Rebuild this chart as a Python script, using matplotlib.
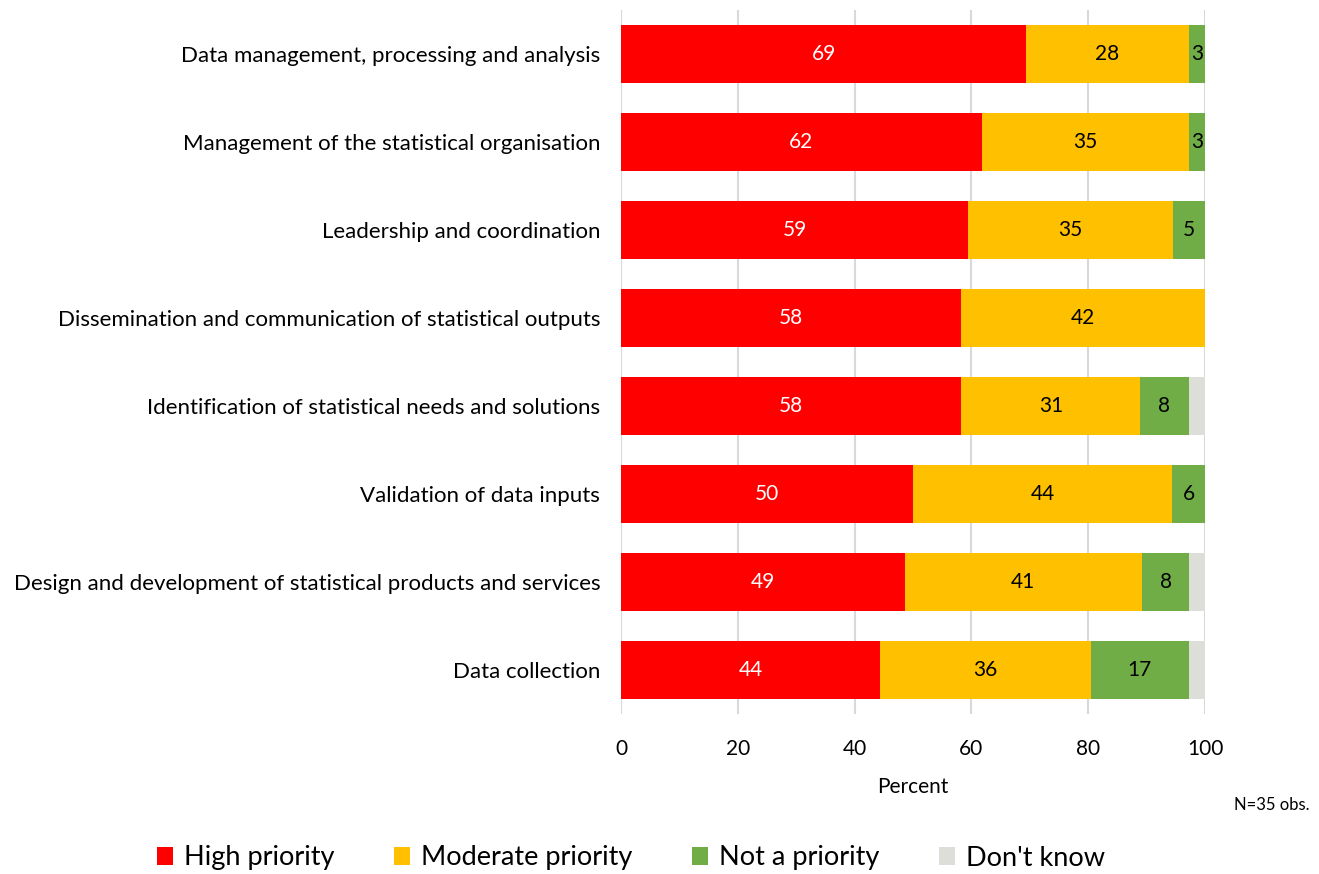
import matplotlib.pyplot as plt
import numpy as np

plt.rcParams['font.family'] = ['Lato', 'DejaVu Sans']

categories = [
    "Data management, processing and analysis",
    "Management of the statistical organisation",
    "Leadership and coordination",
    "Dissemination and communication of statistical outputs",
    "Identification of statistical needs and solutions",
    "Validation of data inputs",
    "Design and development of statistical products and services",
    "Data collection",
]
high = [69.4, 61.8, 59.4, 58.2, 58.3, 50.0, 48.6, 44.4]
moderate = [27.8, 35.4, 35.2, 41.8, 30.6, 44.4, 40.6, 36.1]
not_prio = [2.8, 2.8, 5.4, 0.0, 8.3, 5.6, 8.1, 16.7]
dont_know = [0.0, 0.0, 0.0, 0.0, 2.8, 0.0, 2.7, 2.8]

series = [
    ("High priority", high, "#FF0000", "white"),
    ("Moderate priority", moderate, "#FFC000", "black"),
    ("Not a priority", not_prio, "#70AD47", "black"),
    ("Don't know", dont_know, "#DEDED9", None),
]

fig = plt.figure(figsize=(13.19, 8.74), dpi=100)
ax = fig.add_axes([621 / 1319, 1 - 714 / 874, 584 / 1319, 704 / 874])

y = np.arange(len(categories))
left = np.zeros(len(categories))
handles = []
for name, vals, color, txt in series:
    vals = np.array(vals)
    b = ax.barh(y, vals, left=left, height=0.66, color=color, label=name, zorder=3)
    handles.append(b)
    if txt is not None:
        for yi, l, v in zip(y, left, vals):
            if v > 0:
                ax.text(l + v / 2, yi, f"{round(v):.0f}", ha="center", va="center",
                        color=txt, fontsize=15, zorder=4)
    left = left + vals

ax.set_xlim(0, 100)
ax.set_ylim(len(categories) - 0.5, -0.5)
ax.set_yticks(y)
ax.set_yticklabels(categories, fontsize=16)
ax.set_xticks([0, 20, 40, 60, 80, 100])
ax.tick_params(axis="x", labelsize=15, length=0, pad=18)
ax.tick_params(axis="y", length=0, pad=15)
ax.grid(axis="x", color="#D9D9D9", linewidth=1.5, zorder=0)
for s in ax.spines.values():
    s.set_visible(False)
ax.set_xlabel("Percent", fontsize=15, labelpad=13)

fig.text(1310 / 1319, 1 - 805 / 874, "N=35 obs.", ha="right", va="center", fontsize=12)
fig.legend(handles=handles, loc="center", bbox_to_anchor=(631 / 1319, 1 - 858 / 874),
           ncol=4, frameon=False, fontsize=19.5, handlelength=0.6, handleheight=0.6,
           columnspacing=2.2, handletextpad=0.4)

fig.savefig("out.png", dpi=100)
